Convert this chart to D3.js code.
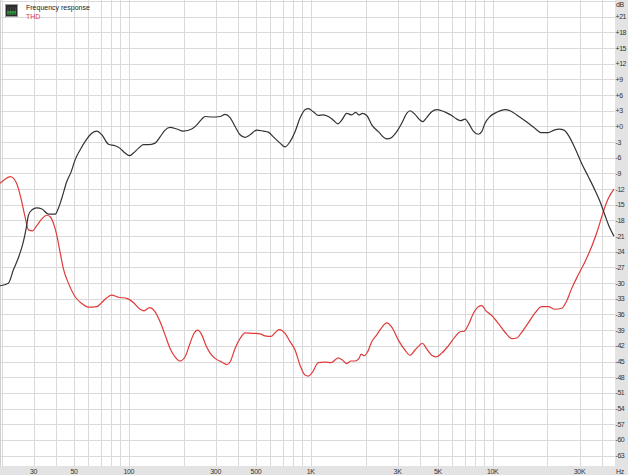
<!DOCTYPE html>
<html><head><meta charset="utf-8">
<script src="https://cdn.jsdelivr.net/npm/d3@7"></script>
<style>html,body{margin:0;padding:0;background:#fff;}svg{display:block;}</style>
</head><body>
<script>
// ---- data ----
const freqResponseHz = [19.6,21.8,23.2,24.7,26.2,27.3,28.1,29.3,31.2,33.3,36.2,39.4,41.0,42.8,45.6,48.2,50.7,54.0,57.5,62.6,66.7,71.1,77.3,84.1,89.6,95.4,100.8,106,112.9,120.3,128.1,139.5,148.6,158.3,168.6,183.5,199.5,221.9,236.4,251.8,262.6,285.8,317.6,338.2,360.3,383.8,408.9,435.5,464,505,549,585,623,678,723,770,820,873,930,970,1033,1101,1173,1249,1331,1407,1480,1577,1680,1767,1843,1921,2031,2164,2352,2617,2787,2969,3162,3369,3513,3742,3936,4125,4340,4622,4925,5247,5590,5955,6344,6674,7044,7436,7824,8335,8703,9071,9665,10520,11680,12450,13550,15050,16720,18590,20210,21720,23220,24650,26370,28340,30830,33520,36480,39220,41400,43720,46400];
const freqResponseDb = [-30.5,-30.0,-27.5,-25.2,-22.4,-19.5,-17.0,-16.0,-15.6,-15.8,-16.8,-16.8,-15.7,-13.8,-10.6,-8.7,-6.4,-4.5,-2.9,-1.3,-0.9,-1.6,-3.4,-3.7,-4.2,-5.1,-5.6,-5.1,-4.2,-3.5,-3.5,-3.2,-2.0,-0.7,-0.2,-0.5,-0.9,-0.5,0.3,1.4,1.9,1.8,1.9,2.3,1.7,0,-1.6,-2.1,-1.6,-0.7,-0.9,-1.1,-2.0,-3.2,-3.9,-2.9,-1.0,1.6,3.2,3.4,2.8,2.1,2.2,1.9,1.2,0.5,1.2,2.5,2.2,2.7,2.2,2.5,2.1,0.3,-1.0,-2.4,-2.1,-1.0,0.6,2.5,3.0,2.3,1.4,0.9,1.7,2.8,3.2,3.0,2.6,2.1,1.4,1.1,1.4,0.4,-0.9,-1.5,-1.0,0.6,1.9,2.7,3.2,3.0,2.2,1.1,-0.1,-1.2,-1.2,-0.7,-0.5,-0.7,-2.0,-4.2,-7.1,-9.6,-12.2,-14.7,-17.0,-19.2,-21.0];
const thdHz = [19.6,20.9,22.3,23.2,24.7,25.8,26.9,28.1,29.5,31.2,33.3,35.4,37.0,38.5,40.2,41.9,43.7,46.6,50.7,55.2,60.0,66.7,71.1,75.7,80.6,87.7,97.5,106,115.4,121.4,129.8,139.5,148.6,158.3,168.6,179.6,191.4,203.9,217.2,228.5,239.4,251.8,266,279.8,298,324.3,345.5,360.3,383.8,408.9,435.5,474.1,526.6,560.9,605,636.5,669.9,722.6,769.7,819.9,873.4,930.5,970.1,1020,1101,1198,1292,1418,1492,1577,1665,1751,1843,1890,1970,2057,2164,2305,2455,2617,2787,3029,3297,3513,3742,3936,4104,4340,4622,4882,5247,5702,6210,6612,6956,7342,7824,8335,8703,9189,9874,10735,11680,12720,13550,14430,15690,17080,18590,20210,21990,23940,25510,27180,29540,32150,34990,38030,40530,43170,46400];
const thdDb = [-10.9,-10.1,-9.6,-9.9,-11.8,-14.4,-17.3,-19.8,-20.0,-19.0,-17.7,-17.0,-17.3,-18.5,-20.8,-24.0,-27.2,-30.0,-32.6,-33.9,-34.6,-34.5,-33.7,-32.8,-32.3,-32.7,-32.9,-33.7,-35.0,-35.3,-34.7,-35.5,-37.4,-39.9,-42.5,-44.1,-44.9,-44.1,-41.5,-39.6,-39.0,-39.9,-42.0,-43.4,-44.4,-45.1,-45.6,-45.1,-42.5,-40.6,-39.5,-39.6,-39.7,-40.1,-40.2,-39.5,-38.9,-39.6,-41.2,-42.8,-45.7,-47.6,-47.8,-47.1,-45.2,-45.1,-45.2,-44.3,-44.7,-45.4,-44.9,-44.9,-44.4,-43.6,-43.9,-43.1,-41.2,-39.9,-38.5,-37.6,-38.4,-40.9,-42.8,-43.8,-42.8,-42.0,-41.5,-42.6,-43.8,-44.1,-43.4,-42.0,-40.3,-39.3,-39.2,-38.0,-35.8,-34.5,-34.3,-35.3,-36.2,-37.7,-39.4,-40.6,-40.5,-39.4,-37.6,-35.7,-34.5,-34.5,-35.0,-34.8,-33.4,-31.0,-28.4,-25.9,-23.0,-19.5,-16.3,-13.8,-12.0];
const yTickValues = [21,18,15,12,9,6,3,0,-3,-6,-9,-12,-15,-18,-21,-24,-27,-30,-33,-36,-39,-42,-45,-48,-51,-54,-57,-60,-63];
const xTickValues = [30,50,100,300,500,1000,3000,5000,10000,30000];
const xTickLabels = ["30","50","100","300","500","1K","3K","5K","10K","30K"];
const seriesNames = ["Frequency response","THD"];

// ---- layout ----
const W = 628, H = 475;
const plotR = 615, plotB = 466;
const svg = d3.select("body").append("svg").attr("width", W).attr("height", H);
const x = d3.scaleLog().domain([19.6, 47000]).range([0, plotR]);
const y = d3.scaleLinear().domain([24.2, -65]).range([0, plotB]);

svg.append("rect").attr("x",0).attr("y",0).attr("width",W).attr("height",H).attr("fill","#e3e3e3");
svg.append("rect").attr("x",0).attr("y",0).attr("width",plotR).attr("height",plotB).attr("fill","#ffffff");

// grid
const gridColor = "#dadada";
const vgrid = [];
[10,100,1000,10000].forEach(d => { for (let k=1;k<10;k++){ const f=d*k; if (f>=20 && f<=47000) vgrid.push(f);} });
svg.append("g").selectAll("line").data(vgrid).join("line")
  .attr("x1", d => Math.round(x(d))+0.5).attr("x2", d => Math.round(x(d))+0.5)
  .attr("y1", 0).attr("y2", plotB).attr("stroke", gridColor).attr("stroke-width",1);
const hgrid = d3.range(24,-66,-3);
svg.append("g").selectAll("line").data(hgrid).join("line")
  .attr("x1", 0).attr("x2", plotR)
  .attr("y1", d => Math.round(y(d))+0.5).attr("y2", d => Math.round(y(d))+0.5)
  .attr("stroke", gridColor).attr("stroke-width",1);
svg.append("line").attr("x1",0.5).attr("x2",0.5).attr("y1",0).attr("y2",plotB).attr("stroke","#cfcfcf");

// curves
const line = d3.line().curve(d3.curveMonotoneX).x(d => x(d[0])).y(d => y(d[1]));
const frData = freqResponseHz.map((f,i) => [f, freqResponseDb[i]]);
const thdData = thdHz.map((f,i) => [f, thdDb[i]]);
svg.append("clipPath").attr("id","clp").append("rect").attr("width",plotR).attr("height",plotB);
svg.append("path").datum(thdData).attr("d", line).attr("fill","none").attr("stroke","#e03a3a").attr("stroke-width",1.2).attr("clip-path","url(#clp)");
svg.append("path").datum(frData).attr("d", line).attr("fill","none").attr("stroke","#333333").attr("stroke-width",1.2).attr("clip-path","url(#clp)");

// axes labels
const font = "'Liberation Sans', Arial, sans-serif";
const yAxis = svg.append("g").attr("font-family", font).attr("font-size", 7).attr("letter-spacing", -0.45).attr("fill", "#333");
yAxis.selectAll("text").data(yTickValues).join("text")
  .attr("x", 615.5).attr("y", d => y(d) + 2.6)
  .text(d => d > 0 ? "+" + d : (d === 0 ? "+0" : String(d)));
yAxis.append("text").attr("x", 616).attr("y", 7).text("dB");

const xAxis = svg.append("g").attr("font-family", font).attr("font-size", 7).attr("letter-spacing", -0.3).attr("fill", "#333").attr("text-anchor","middle");
xAxis.selectAll("text").data(xTickValues).join("text")
  .attr("x", d => x(d)).attr("y", 473.5)
  .text((d,i) => xTickLabels[i]);
xAxis.append("text").attr("x", 620).attr("y", 473.5).text("Hz");

// legend
const lg = svg.append("g");
lg.append("rect").attr("x",5.5).attr("y",4.5).attr("width",12).attr("height",12).attr("fill","#2b2b2b").attr("stroke","#9a9a9a");
[0,1,2,3].forEach(i => {
  lg.append("line").attr("x1",8+i*2.5).attr("x2",8+i*2.5).attr("y1",7).attr("y2",14).attr("stroke","#555").attr("stroke-width",0.7);
});
lg.append("line").attr("x1",7).attr("x2",16).attr("y1",12).attr("y2",12).attr("stroke","#27c93f").attr("stroke-width",1.2);
lg.append("line").attr("x1",7).attr("x2",16).attr("y1",14).attr("y2",14).attr("stroke","#27c93f").attr("stroke-width",0.8);
lg.append("text").attr("x",26).attr("y",10).attr("font-family",font).attr("font-size",7).attr("fill","#222").text(seriesNames[0]);
lg.append("text").attr("x",26).attr("y",19).attr("font-family",font).attr("font-size",7).attr("fill","#e03a3a").text(seriesNames[1]);
</script>
</body></html>
